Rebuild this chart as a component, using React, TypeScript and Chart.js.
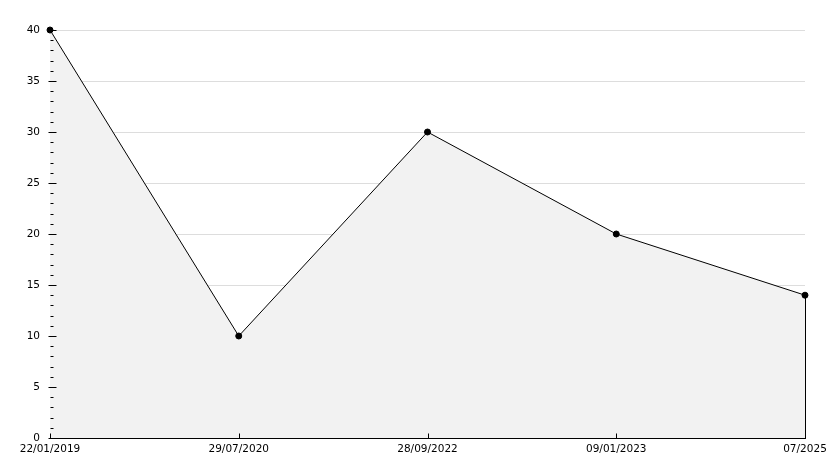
import React, { useEffect, useRef } from "react";
import { Chart, registerables } from "chart.js";

Chart.register(...registerables);

const categories = ["22/01/2019", "29/07/2020", "28/09/2022", "09/01/2023", "07/2025"];
const values = [40, 10, 30, 20, 14];
const yMin = 0;
const yMax = 40;
const yStep = 5;
const yMinorStep = 1;

const tickPlugin = {
  id: "innerTicks",
  afterDatasetsDraw(chart: any) {
    const ctx = chart.ctx;
    const x = chart.scales.x;
    const y = chart.scales.y;
    const area = chart.chartArea;
    ctx.save();
    ctx.strokeStyle = "#000";
    ctx.lineWidth = 1;
    // right edge of filled area
    const lastIdx = values.length - 1;
    const lx = Math.round(x.getPixelForValue(lastIdx)) + 0.5;
    ctx.beginPath();
    ctx.moveTo(lx, y.getPixelForValue(values[lastIdx]));
    ctx.lineTo(lx, y.getPixelForValue(yMin));
    ctx.stroke();
    // y minor/major ticks inside
    const ax = Math.round(area.left) + 0.5;
    for (let v = yMin; v <= yMax; v += yMinorStep) {
      const py = Math.round(y.getPixelForValue(v)) + 0.5;
      const len = v % yStep === 0 ? 6 : 3;
      ctx.beginPath();
      ctx.moveTo(ax - (v % yStep === 0 ? 2 : 0), py);
      ctx.lineTo(ax + len, py);
      ctx.stroke();
    }
    // x ticks inside
    const by = Math.round(area.bottom) + 0.5;
    for (let i = 0; i < categories.length; i++) {
      const px = Math.round(x.getPixelForValue(i)) + 0.5;
      ctx.beginPath();
      ctx.moveTo(px, by);
      ctx.lineTo(px, by - 5);
      ctx.stroke();
    }
    ctx.restore();
  },
};

export default function App() {
  const ref = useRef<HTMLCanvasElement>(null);
  useEffect(() => {
    if (!ref.current) return;
    const chart = new Chart(ref.current, {
      type: "line",
      data: {
        labels: categories,
        datasets: [
          {
            data: values,
            borderColor: "#000",
            borderWidth: 1,
            backgroundColor: "#f2f2f2",
            fill: "origin",
            tension: 0,
            clip: false,
            pointRadius: 3,
            pointStyle: "circle",
            pointBackgroundColor: "#000",
            pointBorderColor: "#000",
            pointBorderWidth: 1,
          },
        ],
      },
      options: {
        animation: false,
        responsive: false,
        maintainAspectRatio: false,
        layout: { padding: { top: 30, right: 29, left: 0, bottom: 0 } },
        plugins: { legend: { display: false }, tooltip: { enabled: false } },
        scales: {
          x: {
            type: "category",
            offset: false,
            grid: { display: false, drawTicks: false },
            border: { display: true, color: "#000", width: 1 },
            ticks: {
              color: "#000",
              font: { family: "DejaVu Sans", size: 10.5 },
              padding: 5,
              maxRotation: 0,
              autoSkip: false,
            },
            afterFit(scale: any) {
              scale.height = 30;
            },
          },
          y: {
            min: yMin,
            max: yMax,
            grid: { color: "#dddddd", drawTicks: false },
            border: { display: true, color: "#000", width: 1 },
            ticks: {
              stepSize: yStep,
              color: "#000",
              font: { family: "DejaVu Sans", size: 10.5 },
              padding: 10,
            },
            afterFit(scale: any) {
              scale.width = 50;
            },
          },
        },
      },
      plugins: [tickPlugin],
    });
    return () => chart.destroy();
  }, []);
  return (
    <div style={{ position: "absolute", left: 0, top: 0, width: 834, height: 468, background: "#fff" }}>
      <canvas ref={ref} width={834} height={468} style={{ width: 834, height: 468 }} />
    </div>
  );
}
